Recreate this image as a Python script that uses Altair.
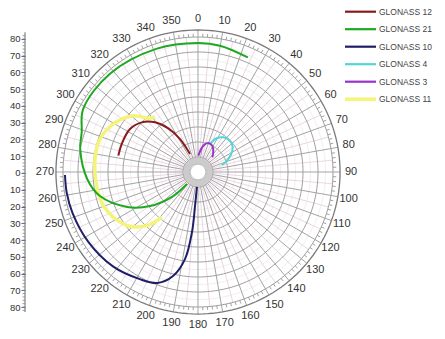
import altair as alt
import pandas as pd
import numpy as np

# ---------------- data (azimuth deg, zenith distance deg) ----------------
names = ["GLONASS 12", "GLONASS 21", "GLONASS 10", "GLONASS 4", "GLONASS 3", "GLONASS 11"]
colors = ["#861c1c", "#1fa81f", "#1f1f68", "#52d6d6", "#9933cc", "#f4f47a"]

g12_az = [281.6, 290.1, 302.3, 311.4, 319.1, 325.8, 331.4, 336.0]
g12_zen = [54.2, 54.2, 53.6, 50.0, 43.8, 35.2, 25.0, 13.1]

g21_az = [23.5, 9.9, 0.0, 341.6, 318.0, 298.7, 288.8, 281.0, 266.4, 256.2, 243.8, 234.7, 226.0, 222.5]
g21_zen = [83.3, 85.5, 86.0, 86.7, 88.0, 87.3, 81.9, 80.0, 74.0, 67.3, 52.7, 39.3, 23.3, 10.9]

g10_az = [268.7, 261.2, 252.0, 237.5, 222.0, 208.5, 200.0, 193.5, 188.5, 185.7, 185.0, 184.0]
g10_zen = [88.7, 88.6, 88.0, 86.7, 84.7, 81.3, 78.7, 71.3, 58.7, 40.0, 22.7, 10.0]

g4_az = [23.0, 29.0, 36.0, 45.6, 54.6, 62.5, 69.8, 73.5]
g4_zen = [20.3, 25.7, 28.6, 29.8, 28.4, 24.6, 19.9, 16.5]

g3_az = [1.0, 11.4, 19.6, 28.5, 37.8, 44.2]
g3_zen = [10.9, 17.9, 20.5, 19.9, 16.6, 13.7]

g11_az = [322.0, 317.2, 311.0, 299.5, 288.6, 277.2, 264.2, 252.5, 241.9, 231.4, 223.7, 218.7]
g11_zen = [46.5, 48.8, 57.2, 64.9, 68.9, 69.2, 68.3, 67.3, 64.0, 58.0, 49.5, 38.7]

series_az = [g12_az, g21_az, g10_az, g4_az, g3_az, g11_az]
series_zen = [g12_zen, g21_zen, g10_zen, g4_zen, g3_zen, g11_zen]

angle_ticks = list(range(0, 360, 10))
left_axis_ticks = list(range(-80, 81, 10))
left_axis_minor = list(range(-82, 83, 2))

# ---------------- tables ----------------
rows = []
for n, azs, zens in zip(names, series_az, series_zen):
    for i, (a, z) in enumerate(zip(azs, zens)):
        rows.append({"name": n, "i": i, "az": a, "zen": z})
curves = pd.DataFrame(rows)

R_RING = 90.0
R_OUTER = 94.7
R_LABEL = 102.0

circ_rows = []
t = np.linspace(0, 360, 181)
for r in range(10, 91, 10):
    for k, a in enumerate(t):
        circ_rows.append({"cid": r, "k": k, "az": a, "zen": r, "kind": "major"})
for r in range(5, 90, 10):
    for k, a in enumerate(t):
        circ_rows.append({"cid": r, "k": k, "az": a, "zen": r, "kind": "minor"})
for k, a in enumerate(t):
    circ_rows.append({"cid": 999, "k": k, "az": a, "zen": R_OUTER, "kind": "outer"})
circles = pd.DataFrame(circ_rows)
hub = pd.DataFrame({"k": range(len(t)), "az": t, "zen": 7.6})

spokes_major = pd.DataFrame({"az": angle_ticks, "r0": 5.0, "r1": R_OUTER})
spokes_minor = pd.DataFrame({"az": [a + 5 for a in angle_ticks], "r0": 5.0, "r1": R_RING})
ring_ticks = pd.DataFrame({"az": [a for a in range(0, 360, 2) if a % 10 != 0], "r0": R_RING, "r1": 92.2})
labels = pd.DataFrame({"az": angle_ticks, "zen": R_LABEL, "txt": [str(a) for a in angle_ticks]})
legend_df = pd.DataFrame({"name": names, "row": range(len(names))})

# ---------------- scales ----------------
XS = alt.Scale(domain=[-115.333, 159.333], nice=False, zero=False)
YS = alt.Scale(domain=[-106.0, 109.333], nice=False, zero=False)
CS = alt.Scale(domain=names, range=colors)

polar = dict(px="datum.zen * sin(datum.az * PI / 180)", py="datum.zen * cos(datum.az * PI / 180)")
seg = dict(px="datum.r0 * sin(datum.az * PI / 180)", py="datum.r0 * cos(datum.az * PI / 180)",
           px2="datum.r1 * sin(datum.az * PI / 180)", py2="datum.r1 * cos(datum.az * PI / 180)")


def X(f="px"):
    return alt.X(f"{f}:Q", scale=XS, axis=None)


def Y(f="py"):
    return alt.Y(f"{f}:Q", scale=YS, axis=None)


minor_circles = alt.Chart(circles[circles.kind == "minor"]).mark_line(
    color="#ebebeb", strokeWidth=0.8).transform_calculate(**polar).encode(
    x=X(), y=Y(), detail="cid:N", order="k:Q")

sp_minor = alt.Chart(spokes_minor).mark_rule(color="#e6cbdc", strokeWidth=0.8).transform_calculate(
    **seg).encode(x=X(), y=Y(), x2="px2:Q", y2="py2:Q")

major_circles = alt.Chart(circles[circles.kind == "major"]).mark_line(
    color="#a0a0a0", strokeWidth=1).transform_calculate(**polar).encode(
    x=X(), y=Y(), detail="cid:N", order="k:Q")

outer_circle = alt.Chart(circles[circles.kind == "outer"]).mark_line(
    color="#7a7a7a", strokeWidth=1.3).transform_calculate(**polar).encode(
    x=X(), y=Y(), order="k:Q")

sp_major = alt.Chart(spokes_major).mark_rule(color="#a4a4a4", strokeWidth=1).transform_calculate(
    **seg).encode(x=X(), y=Y(), x2="px2:Q", y2="py2:Q")

rticks = alt.Chart(ring_ticks).mark_rule(color="#8a8a8a", strokeWidth=0.8).transform_calculate(
    **seg).encode(x=X(), y=Y(), x2="px2:Q", y2="py2:Q")

hub_ring = alt.Chart(hub).mark_line(color="#cbcbcb", strokeWidth=6).transform_calculate(**polar).encode(
    x=X(), y=Y(), order="k:Q")

yellow = alt.Chart(curves[curves.name == "GLONASS 11"]).mark_line(
    strokeWidth=3.5, interpolate="catmull-rom").transform_calculate(**polar).encode(
    x=X(), y=Y(), color=alt.Color("name:N", scale=CS, legend=None), order="i:Q")

others = alt.Chart(curves[curves.name != "GLONASS 11"]).mark_line(
    strokeWidth=2, interpolate="catmull-rom").transform_calculate(**polar).encode(
    x=X(), y=Y(), color=alt.Color("name:N", scale=CS, legend=None), order="i:Q")

ang_labels = alt.Chart(labels).mark_text(
    fontSize=11, font="Liberation Sans", color="#333333", align="center", baseline="middle").transform_calculate(
    **polar).encode(x=X(), y=Y(), text="txt:N")

# legend (layout)
leg_lines = alt.Chart(legend_df).mark_rule().transform_calculate(
    ly="106.87 - 11.667 * datum.row", lx="98.0", lx2="118.67").encode(
    x=X("lx"), x2="lx2:Q", y=Y("ly"), color=alt.Color("name:N", scale=CS, legend=None),
    strokeWidth=alt.condition(alt.datum.name == "GLONASS 11", alt.value(3.5), alt.value(2.2)))

leg_text = alt.Chart(legend_df).mark_text(
    fontSize=8.5, font="Liberation Sans", color="#444444", align="left", baseline="middle").transform_calculate(
    ly="106.87 - 11.667 * datum.row", lx="120.67").encode(
    x=X("lx"), y=Y("ly"), text="name:N")

# left linear axis (own scale)
AS = alt.Scale(domain=[-94.328, 98.507], nice=False, zero=False)
axis_df = pd.DataFrame({"v": left_axis_ticks})
minor_df = pd.DataFrame({"v": left_axis_minor})

axis_layer = alt.Chart(axis_df).mark_rule(opacity=0).encode(
    y=alt.Y("v:Q", scale=AS, axis=alt.Axis(
        orient="left", values=left_axis_ticks, labelExpr="abs(datum.value)", domain=False,
        grid=False, tickSize=4, tickColor="#666666", labelFontSize=9.5, labelFont="Liberation Sans",
        labelColor="#333333", labelPadding=1, title=None)))

axis_line = alt.Chart(pd.DataFrame({"v0": [-83.0], "v1": [84.0]})).mark_rule(
    color="#666666", strokeWidth=1).encode(
    x=alt.value(0), y=alt.Y("v0:Q", scale=AS, axis=None), y2="v1:Q")

axis_minor = alt.Chart(minor_df).mark_rule(color="#888888", strokeWidth=0.8).encode(
    x=alt.value(-2.5), x2=alt.value(0), y=alt.Y("v:Q", scale=AS, axis=None))

main = alt.layer(minor_circles, sp_minor, major_circles, sp_major, rticks, outer_circle, hub_ring,
                 yellow, others, ang_labels, leg_lines, leg_text)

chart = alt.layer(main, axis_layer, axis_line, axis_minor).resolve_scale(
    y="independent").properties(
    width=412, height=323,
    autosize=alt.AutoSizeParams(type="none"),
    padding={"left": 17, "top": 0, "right": 0, "bottom": 0},
    background="white",
).configure_view(stroke=None)

chart.save("out.html", embed_options={"renderer": "svg", "actions": False})
